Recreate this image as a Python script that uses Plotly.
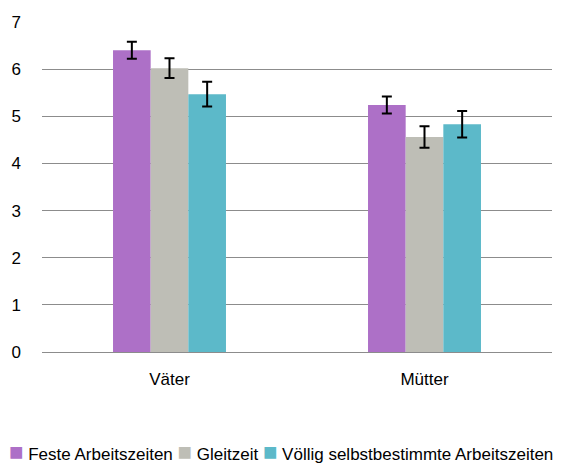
import plotly.graph_objects as go

categories = ["Väter", "Mütter"]
series_names = ["Feste Arbeitszeiten", "Gleitzeit", "Völlig selbstbestimmte Arbeitszeiten"]
feste = [6.40, 5.24]
feste_err = [0.18, 0.18]
gleit = [6.02, 4.56]
gleit_err = [0.21, 0.23]
voellig = [5.47, 4.83]
voellig_err = [0.26, 0.28]
y_ticks = [0, 1, 2, 3, 4, 5, 6, 7]

colors = ["#AD70C7", "#BEBEB6", "#5CB9C9"]
values = [feste, gleit, voellig]
errors = [feste_err, gleit_err, voellig_err]

fig = go.Figure()
for name, vals, errs, col in zip(series_names, values, errors, colors):
    fig.add_trace(go.Bar(
        name=name, x=categories, y=vals, marker=dict(color=col, line=dict(width=0)),
        error_y=dict(type="data", array=errs, visible=True, color="black", thickness=2, width=5),
    ))

# legend drawn as a single text line (built from series names and colours)
legend_text = " ".join(
    f'<span style="color:{c};font-size:24px">■</span> {n}' for n, c in zip(series_names, colors)
)

font = "Liberation Sans, Arial, sans-serif"
fig.update_layout(
    width=565, height=466,
    margin=dict(l=42, r=13, t=22, b=114),
    paper_bgcolor="white", plot_bgcolor="white",
    barmode="group", bargap=0.557, bargroupgap=0,
    font=dict(family=font, size=17, color="black"),
    showlegend=False,
    xaxis=dict(showgrid=False, showline=False, zeroline=False, ticks="", automargin=False,
               ticklabelstandoff=15, tickfont=dict(size=17)),
    yaxis=dict(range=[0, 7], tickvals=y_ticks, showgrid=True, gridcolor="#8C8C8C", gridwidth=1,
               zeroline=True, zerolinecolor="#8C8C8C", zerolinewidth=1, showline=False, ticks="",
               automargin=False, ticklabelstandoff=20, tickfont=dict(size=17)),
    annotations=[dict(text=legend_text, x=0.4696, y=-0.302, xref="paper", yref="paper",
                      xanchor="center", yanchor="middle", showarrow=False,
                      font=dict(size=17, family=font, color="black"))],
)

fig.write_html("out.html", config={"displayModeBar": False},
               post_script="document.body.style.margin='0';")
